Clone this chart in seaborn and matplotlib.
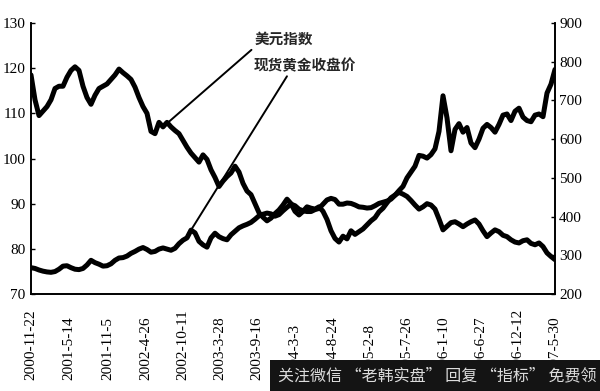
import numpy as np
import pandas as pd
import matplotlib
matplotlib.use("Agg")
import matplotlib.pyplot as plt
import matplotlib.dates as mdates
import seaborn as sns

# ---- data (half-monthly samples) ----
start_date = "2000-11-22"
end_date = "2007-05-30"

usd_index = [118.5, 113, 109.5, 110.5, 111.5, 113, 115.5, 116, 116, 118,
             119.5, 120.3, 119.5, 116, 113.5, 112, 114, 115.5, 116, 116.5,
             117.5, 118.5, 119.8, 119, 118.3, 117.5, 115.8, 113.5, 111.5, 110,
             106, 105.5, 108, 107, 108, 107, 106.2, 105.5, 104, 102.5,
             101.2, 100.2, 99.2, 100.8, 99.8, 97.5, 95.8, 93.8, 95, 96,
             96.8, 98.3, 97, 94.5, 92.8, 92, 90, 88, 87, 86.2,
             86.8, 87.8, 88.6, 89.7, 91, 90, 88.3, 87.5, 88.3, 89.3,
             89, 88.8, 89.3, 88.3, 86.5, 84, 82.3, 81.5, 82.8, 82.2,
             84, 83.2, 83.8, 84.4, 85.3, 86.2, 86.9, 88.2, 89, 90.2,
             91.3, 91.9, 92.5, 92.1, 91.6, 90.7, 89.7, 88.8, 89.3, 90,
             89.7, 88.8, 86.6, 84.2, 85, 85.8, 86, 85.5, 84.9, 85.5,
             86, 86.4, 85.5, 84, 82.7, 83.5, 84.2, 83.8, 83, 82.7,
             82, 81.5, 81.3, 81.8, 82, 81.2, 80.9, 81.3, 80.5, 79.1,
             78.3, 77.6]

gold_close = [268, 266, 262, 259, 257, 256, 258, 264, 272, 273,
              268, 264, 263, 266, 275, 287, 281, 277, 272, 273,
              278, 287, 293, 294, 298, 305, 310, 316, 320, 315,
              308, 310, 316, 319, 316, 313, 318, 330, 339, 345,
              365, 358, 336, 327, 321, 345, 357, 348, 343, 340,
              353, 362, 371, 376, 380, 385, 393, 402, 406, 409,
              407, 401, 405, 415, 424, 432, 428, 419, 415, 413,
              413, 418, 421, 432, 443, 447, 444, 432, 432, 435,
              434, 430, 425, 424, 422, 423, 428, 434, 437, 440,
              445, 455, 467, 478, 500, 515, 530, 558, 556, 551,
              560, 575, 620, 712, 655, 570, 625, 640, 618, 630,
              590, 578, 600, 628, 638, 630, 618, 638, 662, 665,
              648, 672, 680, 657, 648, 645, 662, 665, 658, 719,
              742, 780]

tick_dates = ["2000-11-22", "2001-5-14", "2001-11-5", "2002-4-26", "2002-10-11",
              "2003-3-28", "2003-9-16", "2004-3-3", "2004-8-24", "2005-2-8",
              "2005-7-26", "2006-1-10", "2006-6-27", "2006-12-12", "2007-5-30"]
left_ticks = [70, 80, 90, 100, 110, 120, 130]
right_ticks = [200, 300, 400, 500, 600, 700, 800, 900]

label_usd = "美元指数"
label_gold = "现货黄金收盘价"
watermark = "关注微信 “老韩实盘” 回复 “指标” 免费领"

df = pd.DataFrame({
    "date": pd.date_range(start_date, end_date, periods=len(usd_index)),
    "usd": usd_index,
    "gold": gold_close,
})

sns.set_theme(style="white")
plt.rcParams["font.family"] = ["Liberation Serif", "DejaVu Serif"]
cjk = ["Noto Sans CJK SC", "DejaVu Sans"]

fig = plt.figure(figsize=(6.0, 3.91), dpi=100)
ax = fig.add_axes([31 / 600, 1 - 294 / 391, 524 / 600, 271 / 391])
ax2 = ax.twinx()

sns.lineplot(data=df, x="date", y="usd", ax=ax, color="black", lw=3.6)
sns.lineplot(data=df, x="date", y="gold", ax=ax2, color="black", lw=3.6)

ax.set_xlim(df["date"].iloc[0], df["date"].iloc[-1])
ax.set_ylim(70, 130)
ax2.set_ylim(200, 900)
ax.set_yticks(left_ticks)
ax2.set_yticks(right_ticks)
ax.set_xlabel("")
ax.set_ylabel("")
ax2.set_ylabel("")

for a in (ax, ax2):
    a.spines["top"].set_visible(False)
    for s in ("left", "right", "bottom"):
        a.spines[s].set_color("black")
        a.spines[s].set_linewidth(1.2)
    a.grid(False)

ax.tick_params(axis="y", direction="in", length=3, width=1, pad=4,
               labelsize=11, colors="black")
ax2.tick_params(axis="y", direction="in", length=3, width=1, pad=3,
                labelsize=11, colors="black")

tdates = pd.to_datetime(tick_dates)
ax.set_xticks(tdates)
ax.set_xticklabels([])
ax.tick_params(axis="x", direction="in", length=3, width=1)
trans = matplotlib.transforms.blended_transform_factory(ax.transData, ax.transAxes)
for d, lab in zip(tdates, tick_dates):
    ax.text(d, -0.318, lab, transform=trans, rotation=90, ha="center",
            va="bottom", fontsize=11, color="black", clip_on=False)

# annotations
ax.annotate(label_usd, xy=(df["date"].iloc[33], df["usd"].iloc[33]),
            xycoords="data", xytext=(0.427, 0.941), textcoords="axes fraction",
            ha="left", va="center", fontsize=10.5, family=cjk, fontweight="bold",
            arrowprops=dict(arrowstyle="-", lw=1.4, color="black",
                            shrinkA=0, shrinkB=0, relpos=(0, 0)))
ax2.annotate(label_gold, xy=(df["date"].iloc[40], df["gold"].iloc[40]),
             xycoords="data", xytext=(0.424, 0.845), textcoords="axes fraction",
             ha="left", va="center", fontsize=10.5, family=cjk, fontweight="bold",
             arrowprops=dict(arrowstyle="-", lw=1.4, color="black",
                             shrinkA=0, shrinkB=0, relpos=(0.35, 0)))

# watermark bar at the bottom
fig.patches.append(matplotlib.patches.Rectangle(
    (270 / 600, 0), 330 / 600, 31 / 391, transform=fig.transFigure,
    facecolor="#141414", edgecolor="none", zorder=10))
fig.text(278 / 600, 15 / 391, watermark, ha="left", va="center",
         fontsize=11.5, color="#dcdcdc", family=cjk, zorder=11)

fig.savefig("out.png", dpi=100)
